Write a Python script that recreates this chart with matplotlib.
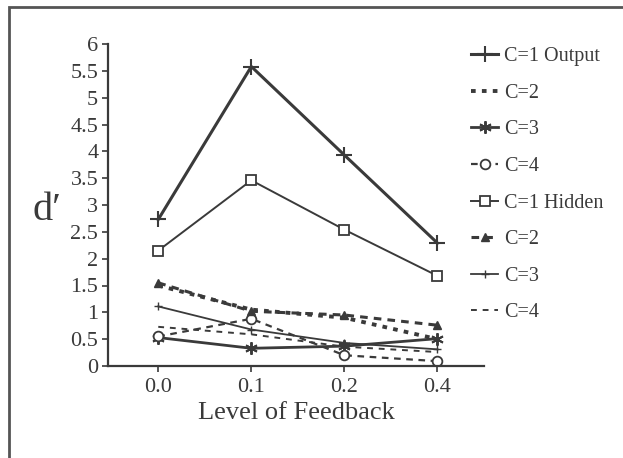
import matplotlib
matplotlib.use("Agg")
import matplotlib.pyplot as plt
from matplotlib.patches import Rectangle

feedback_levels = ["0.0", "0.1", "0.2", "0.4"]

c1_output = [2.73, 5.58, 3.93, 2.29]
c2_output = [1.50, 1.05, 0.90, 0.50]
c3_output = [0.53, 0.33, 0.37, 0.51]
c4_output = [0.55, 0.88, 0.20, 0.09]
c1_hidden = [2.15, 3.46, 2.54, 1.68]
c2_hidden = [1.55, 1.02, 0.95, 0.76]
c3_hidden = [1.11, 0.68, 0.43, 0.31]
c4_hidden = [0.73, 0.59, 0.36, 0.26]

y_ticks = [0, 0.5, 1, 1.5, 2, 2.5, 3, 3.5, 4, 4.5, 5, 5.5, 6]
y_tick_labels = ["0", "0.5", "1", "1.5", "2", "2.5", "3", "3.5",
                 "4", "4.5", "5", "5.5", "6"]

ink = "#3a3a3a"
plt.rcParams["font.family"] = ["Liberation Serif", "DejaVu Serif"]

fig = plt.figure(figsize=(6.23, 4.58), dpi=100)
ax = fig.add_axes([108 / 623, 1 - 366 / 458, 376 / 623, 322 / 458])

x = list(range(len(feedback_levels)))

ax.plot(x, c1_output, color=ink, lw=2.2, ls="-", marker="+",
        ms=11, mew=1.5, label="C=1 Output")
ax.plot(x, c2_output, color=ink, lw=2.8, ls=(0, (1.2, 1.6)),
        label="C=2")
ax.plot(x, c3_output, color=ink, lw=2.0, ls="-", marker=(6, 2, 0),
        ms=9, mew=1.4, label="C=3")
ax.plot(x, c4_output, color=ink, lw=1.6, ls=(0, (3, 2.5)), marker="o",
        ms=7, mfc="white", mew=1.3, label="C=4")
ax.plot(x, c1_hidden, color=ink, lw=1.4, ls="-", marker="s",
        ms=7, mfc="white", mew=1.3, label="C=1 Hidden")
ax.plot(x, c2_hidden, color=ink, lw=2.2, ls=(0, (2.5, 2)), marker="^",
        ms=6, label="C=2")
ax.plot(x, c3_hidden, color=ink, lw=1.3, ls="-", marker="+",
        ms=6, mew=1.0, label="C=3")
ax.plot(x, c4_hidden, color=ink, lw=1.4, ls=(0, (3, 3)),
        label="C=4")

ax.set_xlim(-0.54, 3.5)
ax.set_ylim(0, 6)
ax.set_xticks(x)
ax.set_xticklabels(feedback_levels)
ax.set_yticks(y_ticks)
ax.set_yticklabels(y_tick_labels)

for side in ["top", "right"]:
    ax.spines[side].set_visible(False)
for side in ["left", "bottom"]:
    ax.spines[side].set_color(ink)
    ax.spines[side].set_linewidth(1.6)

ax.tick_params(colors=ink, labelsize=16, length=4, width=1.2,
               direction="out", pad=3)
ax.tick_params(axis="x", pad=5)

ax.set_xlabel("Level of Feedback", fontsize=19, color=ink, labelpad=3)
fig.text(47 / 623, 1 - 210 / 458, "d\u2032", fontsize=29, color=ink,
         ha="center", va="center")

handles, labels = ax.get_legend_handles_labels()
fig.legend(handles, labels, loc="upper left",
           bbox_to_anchor=(463 / 623, 1 - 39 / 458),
           frameon=False, fontsize=14.5, labelcolor=ink,
           handlelength=1.35, handletextpad=0.3, labelspacing=0.87,
           borderaxespad=0)

fig.patches.append(Rectangle((9 / 623, -0.1), 1.2, 1.1 - 7 / 458,
                             transform=fig.transFigure, fill=False,
                             edgecolor="#555555", lw=2.0))

fig.savefig("out.png", dpi=100)
